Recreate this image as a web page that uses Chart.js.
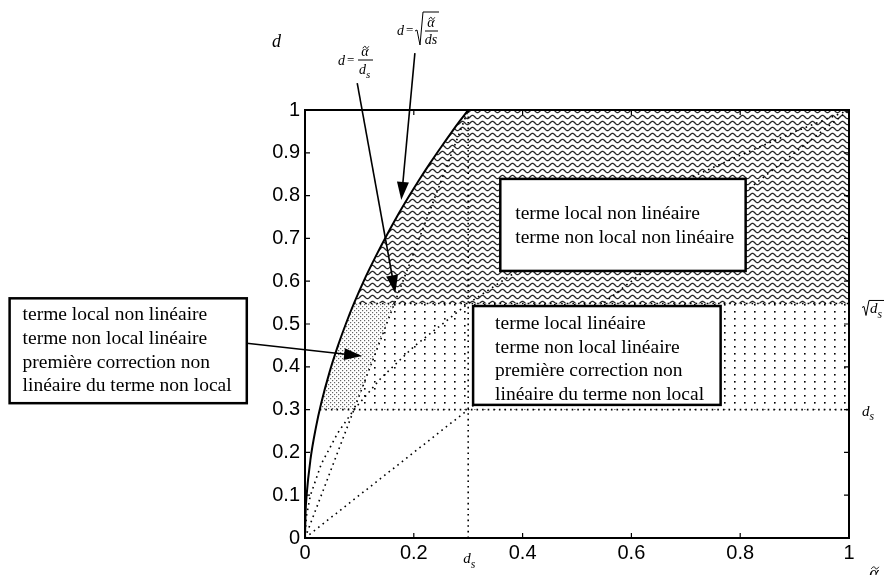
<!DOCTYPE html>
<html>
<head>
<meta charset="utf-8">
<script src="https://cdn.jsdelivr.net/npm/chart.js@4.4.1/dist/chart.umd.min.js"></script>
<style>
  html, body { margin: 0; padding: 0; background: #fff; }
  #wrap { width: 886px; height: 575px; }
</style>
</head>
<body>
<div id="wrap"><canvas id="c" width="886" height="575"></canvas></div>
<script>
// values
const dsVal = 0.3;
const sqrtDsVal = 0.548;

const xTicks = [0, 0.2, 0.4, 0.6, 0.8, 1];
const xTickLabels = ['0', '0.2', '0.4', '0.6', '0.8', '1'];
const yTicks = [0, 0.1, 0.2, 0.3, 0.4, 0.5, 0.6, 0.7, 0.8, 0.9, 1];
const yTickLabels = ['0', '0.1', '0.2', '0.3', '0.4', '0.5', '0.6', '0.7', '0.8', '0.9', '1'];

// solid curve d = sqrt(alpha / ds)
const curveX = [0, 0.001, 0.003, 0.01, 0.02, 0.03, 0.045, 0.06, 0.075, 0.09, 0.11, 0.13, 0.15, 0.17, 0.19, 0.21, 0.23, 0.25, 0.27, 0.285, 0.3];
const curveY = [0, 0.058, 0.1, 0.183, 0.258, 0.316, 0.387, 0.447, 0.5, 0.548, 0.606, 0.658, 0.707, 0.753, 0.796, 0.837, 0.876, 0.913, 0.949, 0.975, 1];

// dotted curve d = sqrt(alpha)
const rootX = [0, 0.0025, 0.01, 0.03, 0.06, 0.09, 0.14, 0.2, 0.3, 0.4, 0.5, 0.6, 0.7, 0.8, 0.9, 1];
const rootY = [0, 0.05, 0.1, 0.173, 0.245, 0.3, 0.374, 0.447, 0.548, 0.632, 0.707, 0.775, 0.837, 0.894, 0.949, 1];

// dotted straight lines
const diagX = [0, 1];         const diagY = [0, 1];
const slopeX = [0, 0.3];      const slopeY = [0, 1];
const vertX = [0.3, 0.3];     const vertY = [0, 1];
const hiLineX = [0.09, 1];    const hiLineY = [0.548, 0.548];
const loLineX = [0.027, 1];   const loLineY = [0.3, 0.3];

// hatched regions
const waveX = [0.09, 0.11, 0.13, 0.15, 0.17, 0.19, 0.21, 0.23, 0.25, 0.27, 0.285, 0.3, 1, 1, 0.09];
const waveY = [0.548, 0.606, 0.658, 0.707, 0.753, 0.796, 0.837, 0.876, 0.913, 0.949, 0.975, 1, 1, 0.548, 0.548];
const bandX = [0.027, 0.03, 0.045, 0.06, 0.075, 0.09, 1, 1, 0.027];
const bandY = [0.3, 0.316, 0.387, 0.447, 0.5, 0.548, 0.548, 0.3, 0.3];
const denseX = [0.027, 0.03, 0.045, 0.06, 0.075, 0.09, 0.164, 0.09, 0.027];
const denseY = [0.3, 0.316, 0.387, 0.447, 0.5, 0.548, 0.548, 0.3, 0.3];

// text boxes (corners in data units) and their lines
const boxUpper = { x0: 0.359, x1: 0.81, y0: 0.839, y1: 0.624 };
const boxUpperText = ['terme local non linéaire', 'terme non local non linéaire'];
const boxLower = { x0: 0.309, x1: 0.764, y0: 0.542, y1: 0.311 };
const boxLowerText = ['terme local linéaire', 'terme non local linéaire', 'première correction non', 'linéaire du terme non local'];
const boxLeft = { x0: -0.543, x1: -0.107, y0: 0.56, y1: 0.315 };
const boxLeftText = ['terme local non linéaire', 'terme non local linéaire', 'première correction non', 'linéaire du terme non local'];

// arrows: from -> to, data units
const arrowRoot = { x0: 0.202, y0: 1.133, x1: 0.177, y1: 0.79 };
const arrowSlope = { x0: 0.096, y0: 1.063, x1: 0.166, y1: 0.572 };
const arrowLeft = { x0: -0.107, y0: 0.455, x1: 0.105, y1: 0.425 };

const canvas = document.getElementById('c');

function makePattern(w, h, draw) {
  const c = document.createElement('canvas');
  c.width = w; c.height = h;
  const g = c.getContext('2d');
  g.fillStyle = '#fff';
  g.fillRect(0, 0, w, h);
  draw(g);
  return canvas.getContext('2d').createPattern(c, 'repeat');
}

const wavePattern = makePattern(10, 6, g => {
  g.strokeStyle = '#222';
  g.lineWidth = 1.3;
  g.beginPath();
  for (let i = -2; i <= 22; i++) {
    const x = i * 0.5;
    const y = 3 - 1.6 * Math.sin(Math.PI * 2 * x / 10);
    if (i === -2) g.moveTo(x, y); else g.lineTo(x, y);
  }
  g.stroke();
});
const dotPattern = makePattern(10, 7, g => {
  g.fillStyle = '#000';
  g.fillRect(4, 3, 1.6, 1.6);
});
const densePattern = makePattern(4, 4, g => {
  g.fillStyle = '#666';
  g.fillRect(0, 0, 1.2, 1.2);
  g.fillRect(2, 2, 1.2, 1.2);
});

const pts = (xs, ys) => xs.map((x, i) => ({ x: x, y: ys[i] }));
const fillSet = (xs, ys, pat, order) => ({
  data: pts(xs, ys), showLine: true, fill: 'shape', backgroundColor: pat,
  borderColor: 'rgba(0,0,0,0)', borderWidth: 1, pointRadius: 0, order: order
});
const dotted = (xs, ys) => ({
  data: pts(xs, ys), showLine: true, fill: false, borderColor: '#000',
  borderWidth: 1.6, borderDash: [1.6, 4], pointRadius: 0, order: 5
});

const serif = '"Liberation Serif", "Times New Roman", serif';
const italic = s => 'italic ' + s + 'px ' + serif;

function drawDs(ctx, x, y, size) {
  ctx.font = italic(size);
  ctx.textAlign = 'left';
  ctx.textBaseline = 'alphabetic';
  ctx.fillText('d', x, y);
  const w = ctx.measureText('d').width;
  ctx.font = italic(size * 0.78);
  ctx.fillText('s', x + w, y + size * 0.32);
}

// italic alpha with a tilde drawn above it, centred on cx
function alphaTilde(ctx, cx, y, size) {
  ctx.font = italic(size);
  ctx.textAlign = 'center';
  ctx.textBaseline = 'alphabetic';
  ctx.fillText('α', cx, y);
  const w = size * 0.42, ty = y - size * 0.62, mx = cx + size * 0.06;
  ctx.lineWidth = 0.9;
  ctx.beginPath();
  ctx.moveTo(mx - w / 2, ty + 1);
  ctx.bezierCurveTo(mx - w / 4, ty - 2, mx, ty - 1, mx, ty);
  ctx.bezierCurveTo(mx, ty + 1, mx + w / 4, ty + 2, mx + w / 2, ty - 1);
  ctx.stroke();
}

function arrow(ctx, sx, sy, a) {
  const x0 = sx.getPixelForValue(a.x0), y0 = sy.getPixelForValue(a.y0);
  const x1 = sx.getPixelForValue(a.x1), y1 = sy.getPixelForValue(a.y1);
  const ang = Math.atan2(y1 - y0, x1 - x0);
  const len = 18, half = 6;
  ctx.strokeStyle = '#000';
  ctx.lineWidth = 1.6;
  ctx.beginPath();
  ctx.moveTo(x0, y0);
  ctx.lineTo(x1 - Math.cos(ang) * len * 0.8, y1 - Math.sin(ang) * len * 0.8);
  ctx.stroke();
  ctx.fillStyle = '#000';
  ctx.beginPath();
  ctx.moveTo(x1, y1);
  ctx.lineTo(x1 - Math.cos(ang) * len - Math.sin(ang) * half, y1 - Math.sin(ang) * len + Math.cos(ang) * half);
  ctx.lineTo(x1 - Math.cos(ang) * len + Math.sin(ang) * half, y1 - Math.sin(ang) * len - Math.cos(ang) * half);
  ctx.closePath();
  ctx.fill();
}

function textBox(ctx, sx, sy, b, lines, padLeft, firstBase) {
  const l = sx.getPixelForValue(b.x0), r = sx.getPixelForValue(b.x1);
  const t = sy.getPixelForValue(b.y0), bt = sy.getPixelForValue(b.y1);
  ctx.fillStyle = '#fff';
  ctx.fillRect(l, t, r - l, bt - t);
  ctx.strokeStyle = '#000';
  ctx.lineWidth = 2.5;
  ctx.strokeRect(l, t, r - l, bt - t);
  ctx.fillStyle = '#000';
  ctx.font = '19.5px ' + serif;
  ctx.textAlign = 'left';
  ctx.textBaseline = 'alphabetic';
  lines.forEach((s, i) => ctx.fillText(s, l + padLeft, t + firstBase + i * 23.7));
}

const decor = {
  id: 'decor',
  afterDatasetsDraw(chart) {
    const ctx = chart.ctx;
    const sx = chart.scales.x, sy = chart.scales.y;
    const a = chart.chartArea;
    ctx.save();

    // frame with inward ticks on all four sides
    ctx.strokeStyle = '#000';
    ctx.lineWidth = 2;
    ctx.strokeRect(a.left, a.top, a.right - a.left, a.bottom - a.top);
    ctx.lineWidth = 1.2;
    ctx.beginPath();
    xTicks.forEach(v => {
      const px = sx.getPixelForValue(v);
      ctx.moveTo(px, a.bottom); ctx.lineTo(px, a.bottom - 5);
      ctx.moveTo(px, a.top); ctx.lineTo(px, a.top + 5);
    });
    yTicks.forEach(v => {
      const py = sy.getPixelForValue(v);
      ctx.moveTo(a.left, py); ctx.lineTo(a.left + 5, py);
      ctx.moveTo(a.right, py); ctx.lineTo(a.right - 5, py);
    });
    ctx.stroke();

    // text boxes
    textBox(ctx, sx, sy, boxUpper, boxUpperText, 15, 40);
    textBox(ctx, sx, sy, boxLower, boxLowerText, 22, 23);
    textBox(ctx, sx, sy, boxLeft, boxLeftText, 13, 22);

    // arrows
    arrow(ctx, sx, sy, arrowRoot);
    arrow(ctx, sx, sy, arrowSlope);
    arrow(ctx, sx, sy, arrowLeft);

    // axis names
    ctx.fillStyle = '#000';
    ctx.strokeStyle = '#000';
    ctx.font = italic(18);
    ctx.textAlign = 'left';
    ctx.textBaseline = 'alphabetic';
    ctx.fillText('d', a.left - 33, 47);
    alphaTilde(ctx, a.right + 25, 579, 18);

    // d_s under the x axis, and right-hand level labels
    drawDs(ctx, sx.getPixelForValue(dsVal) - 5, a.bottom + 25, 15);
    drawDs(ctx, a.right + 13, sy.getPixelForValue(dsVal) + 6, 15);
    const ry = sy.getPixelForValue(sqrtDsVal) + 10;
    const rx = a.right + 13;
    ctx.lineWidth = 1;
    ctx.beginPath();
    ctx.moveTo(rx, ry - 6); ctx.lineTo(rx + 2, ry - 7); ctx.lineTo(rx + 4, ry + 2);
    ctx.lineTo(rx + 7, ry - 13); ctx.lineTo(rx + 22, ry - 13);
    ctx.stroke();
    drawDs(ctx, rx + 8, ry, 15);

    // formula d = alpha~ / d_s
    ctx.font = italic(14);
    ctx.textAlign = 'left';
    ctx.fillText('d', 338, 65);
    ctx.font = '13px ' + serif;
    ctx.fillText('=', 347, 64);
    alphaTilde(ctx, 365, 56, 14);
    ctx.lineWidth = 1;
    ctx.beginPath(); ctx.moveTo(358, 60); ctx.lineTo(373, 60); ctx.stroke();
    drawDs(ctx, 359, 74, 14);

    // formula d = sqrt(alpha~ / ds)
    ctx.font = italic(14);
    ctx.textAlign = 'left';
    ctx.fillText('d', 397, 35);
    ctx.font = '13px ' + serif;
    ctx.fillText('=', 406, 34);
    ctx.lineWidth = 1;
    ctx.beginPath();
    ctx.moveTo(415, 31); ctx.lineTo(417, 30); ctx.lineTo(420, 45);
    ctx.lineTo(423, 12); ctx.lineTo(439, 12);
    ctx.stroke();
    alphaTilde(ctx, 431, 27, 14);
    ctx.lineWidth = 1;
    ctx.beginPath(); ctx.moveTo(425, 31); ctx.lineTo(438, 31); ctx.stroke();
    ctx.font = italic(14);
    ctx.textAlign = 'center';
    ctx.fillText('ds', 431, 44);

    ctx.restore();
  }
};

new Chart(canvas, {
  type: 'scatter',
  data: {
    datasets: [
      fillSet(waveX, waveY, wavePattern, 30),
      fillSet(bandX, bandY, dotPattern, 30),
      fillSet(denseX, denseY, densePattern, 20),
      dotted(diagX, diagY),
      dotted(slopeX, slopeY),
      dotted(vertX, vertY),
      dotted(rootX, rootY),
      dotted(hiLineX, hiLineY),
      dotted(loLineX, loLineY),
      { data: pts(curveX, curveY), showLine: true, fill: false, borderColor: '#000',
        borderWidth: 2, pointRadius: 0, order: 1, cubicInterpolationMode: 'monotone' }
    ]
  },
  options: {
    responsive: false,
    animation: false,
    events: [],
    layout: { padding: { left: 0, top: 110, right: 37, bottom: 0 } },
    plugins: { legend: { display: false }, tooltip: { enabled: false } },
    scales: {
      x: {
        type: 'linear', min: 0, max: 1,
        afterBuildTicks: s => { s.ticks = xTicks.map(v => ({ value: v })); },
        afterFit: s => { s.height = 37; },
        grid: { display: false, drawTicks: false },
        border: { display: false },
        ticks: {
          padding: 3, color: '#000', maxRotation: 0,
          font: { family: '"Liberation Sans", Arial, sans-serif', size: 20 },
          callback: (v, i) => xTickLabels[i]
        }
      },
      y: {
        type: 'linear', min: 0, max: 1,
        afterBuildTicks: s => { s.ticks = yTicks.map(v => ({ value: v })); },
        afterFit: s => { s.width = 305; },
        grid: { display: false, drawTicks: false },
        border: { display: false },
        ticks: {
          padding: 5, color: '#000',
          font: { family: '"Liberation Sans", Arial, sans-serif', size: 20 },
          callback: (v, i) => yTickLabels[i]
        }
      }
    }
  },
  plugins: [decor]
});
</script>
</body>
</html>
